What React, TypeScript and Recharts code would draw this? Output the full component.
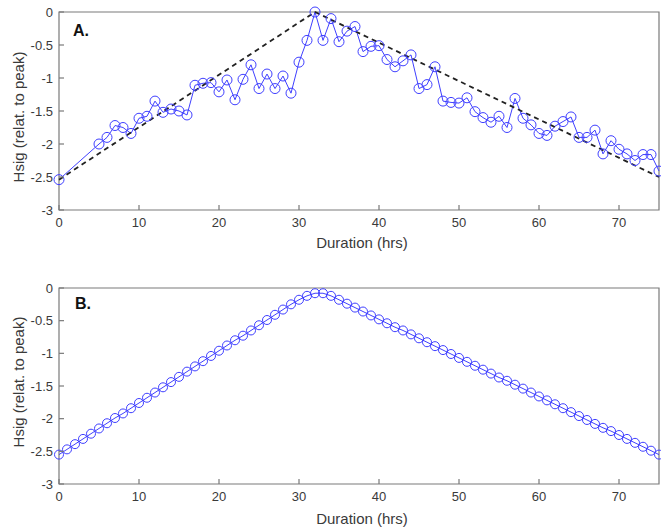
import { Line, LineChart, ReferenceArea, XAxis, YAxis } from "recharts";

// panel A: observed storm profile, hours since start vs Hsig relative to peak
const hoursA = [
  0, 5, 6, 7, 8, 9, 10, 11, 12, 13, 14, 15, 16, 17, 18, 19, 20, 21, 22, 23, 24,
  25, 26, 27, 28, 29, 30, 31, 32, 33, 34, 35, 36, 37, 38, 39, 40, 41, 42, 43,
  44, 45, 46, 47, 48, 49, 50, 51, 52, 53, 54, 55, 56, 57, 58, 59, 60, 61, 62,
  63, 64, 65, 66, 67, 68, 69, 70, 71, 72, 73, 74, 75,
];
const hsigA = [
  -2.54, -2.0, -1.9, -1.72, -1.75, -1.84, -1.61, -1.58, -1.35, -1.52, -1.47,
  -1.5, -1.56, -1.11, -1.08, -1.07, -1.21, -1.03, -1.33, -1.02, -0.8, -1.16,
  -0.94, -1.16, -0.97, -1.23, -0.76, -0.43, 0, -0.43, -0.1, -0.45, -0.29,
  -0.22, -0.6, -0.52, -0.51, -0.72, -0.83, -0.74, -0.65, -1.16, -1.1, -0.83,
  -1.35, -1.37, -1.38, -1.3, -1.51, -1.6, -1.67, -1.58, -1.75, -1.31, -1.61,
  -1.71, -1.84, -1.87, -1.73, -1.66, -1.59, -1.9, -1.9, -1.79, -2.15, -1.95,
  -2.08, -2.15, -2.25, -2.16, -2.16, -2.41,
];
// dashed idealised triangle
const trendHours = [0, 32, 75];
const trendHsig = [-2.54, 0, -2.5];

// panel B: smoothed synthetic profile, one value per hour 0..75
const hoursB = [
  0, 1, 2, 3, 4, 5, 6, 7, 8, 9, 10, 11, 12, 13, 14, 15, 16, 17, 18, 19, 20, 21,
  22, 23, 24, 25, 26, 27, 28, 29, 30, 31, 32, 33, 34, 35, 36, 37, 38, 39, 40,
  41, 42, 43, 44, 45, 46, 47, 48, 49, 50, 51, 52, 53, 54, 55, 56, 57, 58, 59,
  60, 61, 62, 63, 64, 65, 66, 67, 68, 69, 70, 71, 72, 73, 74, 75,
];
const hsigB = [
  -2.55, -2.47, -2.39, -2.31, -2.23, -2.15, -2.07, -1.99, -1.92, -1.84, -1.76,
  -1.68, -1.6, -1.52, -1.44, -1.36, -1.28, -1.2, -1.12, -1.04, -0.96, -0.88,
  -0.8, -0.73, -0.65, -0.57, -0.49, -0.41, -0.33, -0.25, -0.18, -0.12, -0.08,
  -0.08, -0.12, -0.18, -0.24, -0.3, -0.36, -0.42, -0.48, -0.54, -0.6, -0.65,
  -0.71, -0.77, -0.83, -0.89, -0.95, -1.01, -1.07, -1.13, -1.19, -1.25, -1.31,
  -1.37, -1.42, -1.48, -1.54, -1.6, -1.66, -1.72, -1.78, -1.84, -1.9, -1.96,
  -2.02, -2.08, -2.14, -2.19, -2.25, -2.31, -2.37, -2.43, -2.49, -2.55,
];

const xTicks = [0, 10, 20, 30, 40, 50, 60, 70];
const yTicks = [-3, -2.5, -2, -1.5, -1, -0.5, 0];
const xDomain = [0, 75];
const yDomain = [-3, 0];

const seriesA = hoursA.map((h, i) => ({ h, v: hsigA[i] }));
const trend = trendHours.map((h, i) => ({ h, v: trendHsig[i] }));
const seriesB = hoursB.map((h, i) => ({ h, v: hsigB[i] }));

const AXIS = "#7a7a7a";
const TEXT = "#3a3a3a";
const BLUE = "#3f3fff";
const FONT = "'Liberation Sans', Arial, sans-serif";

// MATLAB-style ticks: short marks pointing into the plot box
const BottomTick = (p: any) => (
  <g>
    <line x1={p.x} x2={p.x} y1={p.y - 8} y2={p.y - 13} stroke={AXIS} strokeWidth={1.2} />
    <text x={p.x} y={p.y} dy="0.71em" textAnchor="middle" fill={TEXT} fontSize={13} fontFamily={FONT}>
      {p.payload.value}
    </text>
  </g>
);
const LeftTick = (p: any) => (
  <g>
    <line x1={p.x + 6} x2={p.x + 11} y1={p.y} y2={p.y} stroke={AXIS} strokeWidth={1.2} />
    <text x={p.x} y={p.y} dy="0.355em" textAnchor="end" fill={TEXT} fontSize={13} fontFamily={FONT}>
      {p.payload.value}
    </text>
  </g>
);

const margin = { top: 12, right: 2, bottom: 0, left: 0 };

const yTitle: React.CSSProperties = {
  position: "absolute",
  width: 200,
  left: 19 - 100,
  textAlign: "center",
  transform: "rotate(-90deg)",
  fontSize: 15,
  lineHeight: "16px",
  color: TEXT,
};
const xTitle: React.CSSProperties = {
  position: "absolute",
  width: 200,
  left: 362 - 100,
  textAlign: "center",
  fontSize: 15,
  lineHeight: "16px",
  color: TEXT,
};
const panel: React.CSSProperties = {
  position: "absolute",
  fontSize: 16,
  fontWeight: "bold",
  lineHeight: "16px",
  color: "#111",
};

export default function App() {
  return (
    <div style={{ position: "fixed", left: 0, top: 0, width: 661, height: 528, background: "#fff", fontFamily: FONT }}>
      <LineChart width={661} height={232} margin={margin}>
        <XAxis dataKey="h" type="number" domain={xDomain} ticks={xTicks} interval={0} height={22}
          tickSize={0} tickMargin={8} tickLine={false} axisLine={false} tick={BottomTick} />
        <YAxis type="number" domain={yDomain} ticks={yTicks} interval={0} width={59}
          tickSize={0} tickMargin={6} tickLine={false} axisLine={false} tick={LeftTick} />
        {/* plot box (MATLAB "box on") */}
        <ReferenceArea x1={xDomain[0]} x2={xDomain[1]} y1={yDomain[0]} y2={yDomain[1]}
          fill="none" fillOpacity={0} stroke={AXIS} strokeWidth={1.2} ifOverflow="visible" />
        <Line
          data={seriesA}
          dataKey="v"
          stroke={BLUE}
          strokeWidth={1}
          dot={{ r: 5, stroke: BLUE, strokeWidth: 1, fill: "none" }}
          isAnimationActive={false}
        />
        <Line
          data={trend}
          dataKey="v"
          stroke="#222"
          strokeWidth={1.8}
          strokeDasharray="5 4"
          dot={false}
          isAnimationActive={false}
        />
      </LineChart>
      <div style={{ height: 44 }} />
      <LineChart width={661} height={230} margin={margin}>
        <XAxis dataKey="h" type="number" domain={xDomain} ticks={xTicks} interval={0} height={22}
          tickSize={0} tickMargin={8} tickLine={false} axisLine={false} tick={BottomTick} />
        <YAxis type="number" domain={yDomain} ticks={yTicks} interval={0} width={59}
          tickSize={0} tickMargin={6} tickLine={false} axisLine={false} tick={LeftTick} />
        <ReferenceArea x1={xDomain[0]} x2={xDomain[1]} y1={yDomain[0]} y2={yDomain[1]}
          fill="none" fillOpacity={0} stroke={AXIS} strokeWidth={1.2} ifOverflow="visible" />
        <Line
          data={seriesB}
          dataKey="v"
          stroke={BLUE}
          strokeWidth={1}
          dot={{ r: 4.5, stroke: BLUE, strokeWidth: 1, fill: "none" }}
          isAnimationActive={false}
        />
      </LineChart>

      <div style={{ ...panel, left: 73, top: 23 }}>A.</div>
      <div style={{ ...panel, left: 75, top: 296 }}>B.</div>

      <div style={{ ...yTitle, top: 117 - 8 }}>Hsig (relat. to peak)</div>
      <div style={{ ...yTitle, top: 382 - 8 }}>Hsig (relat. to peak)</div>
      <div style={{ ...xTitle, top: 235 }}>Duration (hrs)</div>
      <div style={{ ...xTitle, top: 511 }}>Duration (hrs)</div>
    </div>
  );
}
